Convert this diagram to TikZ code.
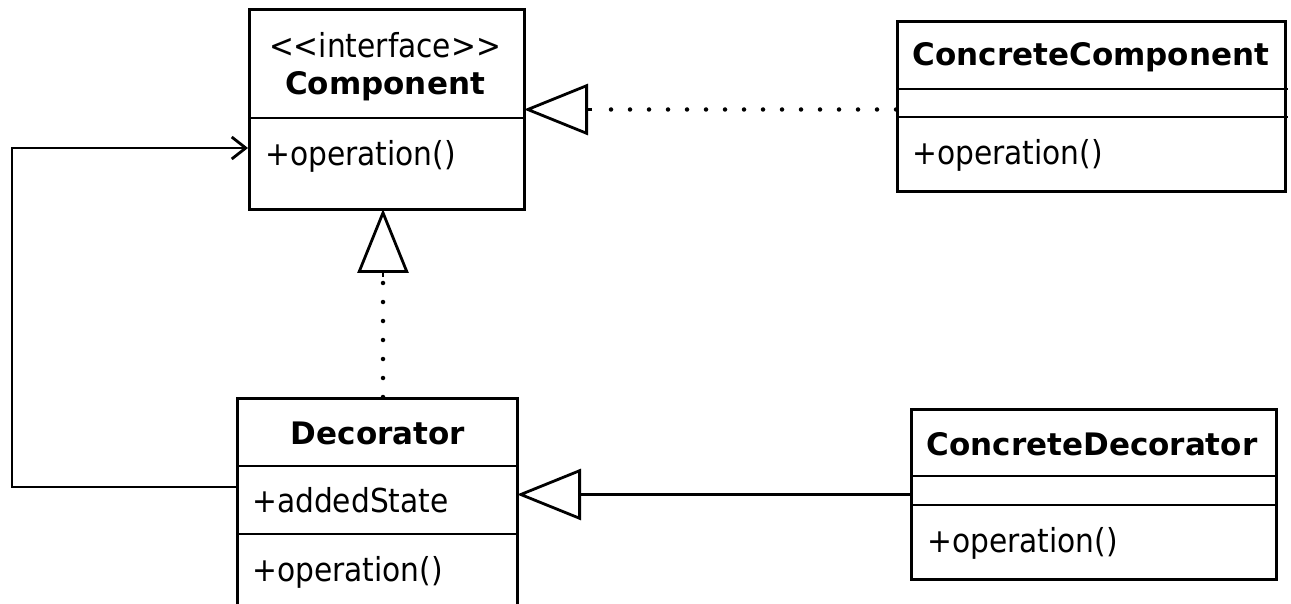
\documentclass[tikz,border=0pt]{standalone}
\usepackage{fontspec}
\setmainfont{DejaVu Sans Condensed}
\newfontfamily\titlefont{DejaVu Sans}
\usetikzlibrary{arrows.meta,calc}
\begin{document}
\begin{tikzpicture}[x=1pt,y=-1pt,
  box/.style={draw, line width=3pt, inner sep=0pt, anchor=north west},
  divline/.style={line width=2.8pt},
  title/.style={font=\titlefont\fontsize{31}{36}\selectfont\bfseries, inner sep=0pt, anchor=center},
  stereo/.style={font=\fontsize{33}{38}\selectfont, inner sep=0pt, anchor=center},
  member/.style={font=\fontsize{33}{38}\selectfont, inner sep=0pt, anchor=west},
  conn/.style={line width=2.8pt},
  dots/.style={line width=4.5pt, line cap=round, dash pattern=on 0pt off 19pt},
  realize/.style={-{Triangle[open, length=64pt, width=51pt, line width=2.8pt]}, shorten >=-2pt},
  navig/.style={-{Straight Barb[length=14pt, width=22pt, line width=2.8pt]}}]
\useasboundingbox (0,0) rectangle (1291,604);
\clip (0,0) rectangle (1291,604);
\fill[white] (0,0) rectangle (1291,604);

% Component
\node[box, minimum width=275pt, minimum height=200pt] (comp) at (248,8) {};
\draw[divline] (248,118) -- (523,118);
\node[stereo] (compst) at (385,45) {<{}<interface>{}>};
\node[title] (compt) at (385,86) {Component};
\node[member] (compop) at (265,156) {+operation()};

% ConcreteComponent
\node[box, minimum width=388pt, minimum height=170pt] (cc) at (896,20) {};
\draw[divline] (896,89) -- (1288,89);
\draw[divline] (896,117) -- (1288,117);
\node[title] (cct) at (1091,57) {ConcreteComponent};
\node[member] (ccop) at (912,155) {+operation()};

% Decorator
\node[box, minimum width=280pt, minimum height=240pt] (dec) at (236,397) {};
\draw[divline] (236,466) -- (519,466);
\draw[divline] (236,534) -- (519,534);
\node[title] (dect) at (378,433) {Decorator};
\node[member] (decst) at (252,500) {+addedState};
\node[member] (decop) at (252,572) {+operation()};

% ConcreteDecorator
\node[box, minimum width=365pt, minimum height=170pt] (cd) at (910,408) {};
\draw[divline] (910,476) -- (1278,476);
\draw[divline] (910,505) -- (1278,505);
\node[title] (cdt) at (1092,444) {ConcreteDecorator};
\node[member] (cdop) at (927,543) {+operation()};

% connectors
\draw[dots] (cc.west |- comp.east) -- ($(comp.east)+(66,0)$);
\draw[conn, realize] ($(comp.east)+(66,0)$) -- (comp.east);

\coordinate (decmid) at ($(comp.south)+(-4,0)$);
\draw[dots] (decmid |- dec.north) -- ($(decmid)+(0,66)$);
\draw[conn, realize] ($(decmid)+(0,66)$) -- (decmid);

\draw[conn, realize] (cd.west) -- (cd.west -| dec.east);

\coordinate (loopL) at (12,0);
\coordinate (decA) at ($(dec.north west)+(0,90)$);
\coordinate (compA) at ($(comp.north west)+(0,140)$);
\draw[conn, navig] (decA) -- (decA -| loopL) -- (loopL |- compA) -- (compA);
\end{tikzpicture}
\end{document}
